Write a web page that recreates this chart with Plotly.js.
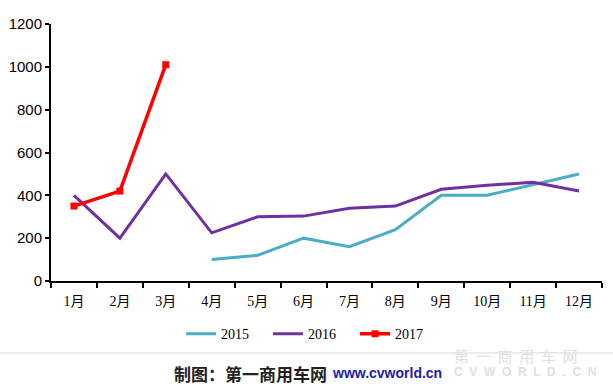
<!DOCTYPE html>
<html><head><meta charset="utf-8">
<script src="https://cdn.plot.ly/plotly-3.0.1.min.js"></script>
<style>body{margin:0;background:#fff}#c{width:613px;height:390px}</style>
</head><body><div id="c"></div>
<script>
const months = ["1月","2月","3月","4月","5月","6月","7月","8月","9月","10月","11月","12月"];
const v2015 = [null,null,null,100,120,200,160,240,400,400,450,500];
const v2016 = [400,200,500,225,300,303,340,350,428,447,461,420];
const v2017 = [350,420,1010];
const yTicks = [0,200,400,600,800,1000,1200];

const serif = "Liberation Serif, 'Noto Sans CJK SC', serif";
const sans = "Liberation Sans, Arial, sans-serif";
const traces = [
  {x: months, y: v2015, name: "2015", mode: "lines", line: {color: "#4BACC6", width: 3}, connectgaps: false},
  {x: months, y: v2016, name: "2016", mode: "lines", line: {color: "#7030A0", width: 3}},
  {x: months.slice(0,3), y: v2017, name: "2017", mode: "lines+markers", line: {color: "#FF0000", width: 3.5},
   marker: {symbol: "square", size: 7, color: "#FF0000"}}
];
const layout = {
  width: 613, height: 390,
  margin: {l: 51, r: 11, t: 24, b: 109},
  paper_bgcolor: "#fff", plot_bgcolor: "#fff",
  showlegend: true,
  legend: {orientation: "h", x: 0.236, xanchor: "left", y: -0.145, yanchor: "top",
           font: {family: serif, size: 14, color: "#000"}, entrywidth: 42, entrywidthmode: "pixels",
           itemwidth: 30, tracegroupgap: 0},
  xaxis: {type: "category", range: [-0.5, 11.5], showgrid: false, showline: true, linecolor: "#000", linewidth: 2,
          ticks: "outside", tickson: "boundaries", ticklen: 5, tickwidth: 2, tickcolor: "#000",
          ticklabelstandoff: 6,
          tickfont: {family: serif, size: 14, color: "#000"}, zeroline: false},
  yaxis: {range: [0, 1200], tickvals: yTicks, showgrid: false, showline: true, linecolor: "#000", linewidth: 2,
          ticks: "outside", ticklen: 4, tickwidth: 2, tickcolor: "#000", zeroline: false,
          tickfont: {family: sans, size: 15, color: "#000"}},
  shapes: [
    {type: "line", xref: "paper", yref: "paper", x0: -0.093, x1: 1.02, y0: -0.280, y1: -0.280,
     line: {color: "#d8d8d8", width: 1}}
  ],
  annotations: [
    {xref: "paper", yref: "paper", x: (172-51)/551, y: -0.358, xanchor: "left", yanchor: "middle", showarrow: false,
     text: "<b>制图：第一商用车网</b>", font: {family: "'Noto Sans CJK SC'", size: 17, color: "#222"}},
    {xref: "paper", yref: "paper", x: (330-51)/551, y: -0.358, xanchor: "left", yanchor: "middle", showarrow: false,
     text: "<b>www.cvworld.cn</b>", font: {family: sans, size: 14, color: "#1c1ca8"}},
    {xref: "paper", yref: "paper", x: (452-51)/551, y: -0.288, xanchor: "left", yanchor: "middle", showarrow: false,
     text: "第  一  商  用  车  网", font: {family: "'Noto Sans CJK SC'", size: 15, color: "#e0e0e0"}},
    {xref: "paper", yref: "paper", x: (452-51)/551, y: -0.355, xanchor: "left", yanchor: "middle", showarrow: false,
     text: "<b>C  V  W  O  R  L  D  .  C  N</b>", font: {family: sans, size: 12, color: "#e0e0e0"}}
  ]
};
Plotly.newPlot("c", traces, layout, {displayModeBar: false, staticPlot: true});
</script></body></html>
